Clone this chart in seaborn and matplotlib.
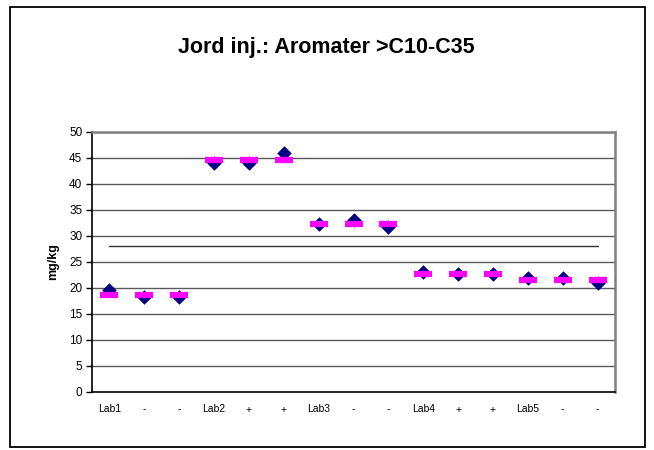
import numpy as np
import pandas as pd
import matplotlib
matplotlib.use("Agg")
import matplotlib.pyplot as plt
from matplotlib.patches import Rectangle
import seaborn as sns

# Results per laboratory (three injections each), mg/kg
labs = ["Lab1", "Lab2", "Lab3", "Lab4", "Lab5"]
lab1 = [19.6, 18.3, 18.3]
lab2 = [44.0, 44.0, 46.0]
lab3 = [32.3, 33.0, 31.8]
lab4 = [23.1, 22.6, 22.6]
lab5 = [22.0, 22.0, 20.9]
tick_labels = ["Lab1", "-", "-", "Lab2", "+", "+", "Lab3", "-", "-",
               "Lab4", "+", "+", "Lab5", "-", "-"]

values = lab1 + lab2 + lab3 + lab4 + lab5
groups = [lab1, lab2, lab3, lab4, lab5]
lab_means = [np.mean(g) for g in groups]
means = [m for m, g in zip(lab_means, groups) for _ in g]
grand_mean = float(np.mean(lab_means))

df = pd.DataFrame({"pos": np.arange(len(values)), "value": values, "mean": means})

sns.set_theme(style="white")
plt.rcParams["font.family"] = ["Liberation Sans", "DejaVu Sans"]
plt.rcParams["text.color"] = "black"
plt.rcParams["axes.labelcolor"] = "black"
plt.rcParams["xtick.color"] = "black"
plt.rcParams["ytick.color"] = "black"

fig = plt.figure(figsize=(6.54, 4.5), dpi=100)
ax = fig.add_axes([92 / 654, 1 - 392 / 450, 523 / 654, 260 / 450])

# horizontal gridlines
for yv in range(5, 51, 5):
    ax.axhline(yv, color="#5a5a5a", lw=1.0, zorder=0)

# overall mean line across the labs
ax.plot([df["pos"].iloc[0], df["pos"].iloc[-1]], [grand_mean, grand_mean],
        color="#333333", lw=1.0, zorder=1)

sns.scatterplot(data=df, x="pos", y="value", marker="D", s=55,
                color="#000080", edgecolor="#000080", linewidth=0, ax=ax, zorder=3)
sns.scatterplot(data=df, x="pos", y="mean", marker="_", s=180,
                color="#ff00ff", linewidth=4.5, ax=ax, zorder=4)

ax.set_xlim(-0.5, len(values) - 0.5)
ax.set_ylim(0, 50)
ax.set_yticks(range(0, 51, 5))
ax.set_yticklabels([str(v) for v in range(0, 51, 5)], fontsize=8.5)
ax.set_xticks(df["pos"])
ax.set_xticklabels(tick_labels, fontsize=7.5)
ax.tick_params(axis="x", length=0, pad=9)
ax.set_xticks(np.arange(-0.5, len(values), 1.0), minor=True)
ax.tick_params(axis="x", which="minor", direction="out", length=4, width=1, color="black")
ax.tick_params(axis="y", direction="out", length=4, width=1, color="black", pad=3, left=True)

ax.set_xlabel("")
ax.set_ylabel("mg/kg", fontsize=9, fontweight="bold")
ax.yaxis.set_label_coords(-0.062, 0.5)

for side in ["left", "bottom"]:
    ax.spines[side].set_color("black")
    ax.spines[side].set_linewidth(1.2)
for side in ["top", "right"]:
    ax.spines[side].set_color("#808080")
    ax.spines[side].set_linewidth(1.8)

fig.text(326 / 654, 1 - 47 / 450, "Jord inj.: Aromater >C10-C35",
         ha="center", va="center", fontsize=15.5, fontweight="bold")

fig.patches.append(Rectangle((10 / 654, 1 - 447 / 450), 635 / 654, 440 / 450,
                             transform=fig.transFigure, fill=False,
                             edgecolor="black", linewidth=1.3))

fig.savefig("out.png", dpi=100)
